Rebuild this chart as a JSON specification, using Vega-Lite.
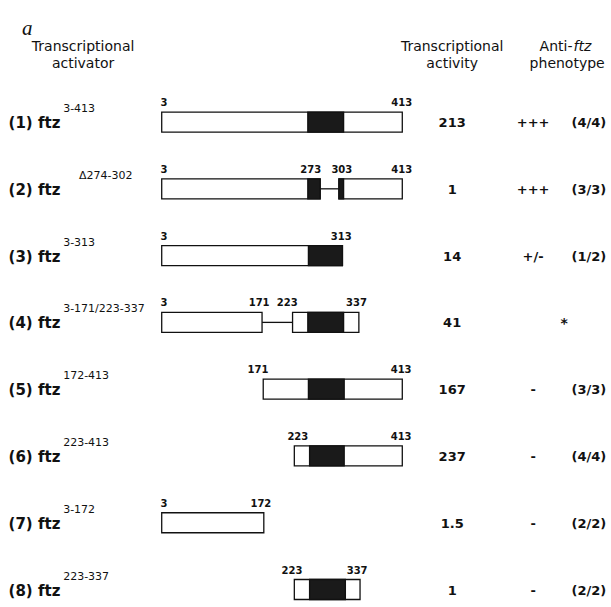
{
  "$schema": "https://vega.github.io/schema/vega-lite/v6.json",
  "width": 611,
  "height": 607,
  "autosize": {"type": "fit", "contains": "padding"},
  "padding": 0,
  "background": "white",
  "config": {"view": {"stroke": null}, "text": {"font": "DejaVu Sans", "color": "#111"}},
  "datasets": {
    "segments": [
      {"row": 1, "kind": "box", "start": 3, "end": 413},
      {"row": 1, "kind": "hd", "start": 252, "end": 313},
      {"row": 2, "kind": "box", "start": 3, "end": 273},
      {"row": 2, "kind": "hd", "start": 252, "end": 273},
      {"row": 2, "kind": "gap", "start": 273, "end": 305},
      {"row": 2, "kind": "box", "start": 305, "end": 413},
      {"row": 2, "kind": "hd", "start": 305, "end": 313},
      {"row": 3, "kind": "box", "start": 3, "end": 311},
      {"row": 3, "kind": "hd", "start": 253, "end": 311},
      {"row": 4, "kind": "box", "start": 3, "end": 174},
      {"row": 4, "kind": "gap", "start": 174, "end": 226},
      {"row": 4, "kind": "box", "start": 226, "end": 339},
      {"row": 4, "kind": "hd", "start": 252, "end": 313},
      {"row": 5, "kind": "box", "start": 176, "end": 413},
      {"row": 5, "kind": "hd", "start": 253, "end": 314},
      {"row": 6, "kind": "box", "start": 229, "end": 413},
      {"row": 6, "kind": "hd", "start": 255, "end": 314},
      {"row": 7, "kind": "box", "start": 3, "end": 177},
      {"row": 8, "kind": "box", "start": 229, "end": 341},
      {"row": 8, "kind": "hd", "start": 255, "end": 316}
    ],
    "ticks": [
      {"row": 1, "pos": 7, "label": "3"}, {"row": 1, "pos": 412, "label": "413"},
      {"row": 2, "pos": 7, "label": "3"}, {"row": 2, "pos": 257, "label": "273"}, {"row": 2, "pos": 310, "label": "303"}, {"row": 2, "pos": 412, "label": "413"},
      {"row": 3, "pos": 7, "label": "3"}, {"row": 3, "pos": 309, "label": "313"},
      {"row": 4, "pos": 7, "label": "3"}, {"row": 4, "pos": 169, "label": "171"}, {"row": 4, "pos": 217, "label": "223"}, {"row": 4, "pos": 335, "label": "337"},
      {"row": 5, "pos": 167, "label": "171"}, {"row": 5, "pos": 411, "label": "413"},
      {"row": 6, "pos": 235, "label": "223"}, {"row": 6, "pos": 411, "label": "413"},
      {"row": 7, "pos": 7, "label": "3"}, {"row": 7, "pos": 172, "label": "172"},
      {"row": 8, "pos": 225, "label": "223"}, {"row": 8, "pos": 336, "label": "337"}
    ],
    "constructs": [
      {"row": 1, "name": "(1) ftz", "sup": "3-413", "activity": "213", "sign": "+++", "count": "(4/4)"},
      {"row": 2, "name": "(2) ftz", "sup": "Δ274-302", "activity": "1", "sign": "+++", "count": "(3/3)"},
      {"row": 3, "name": "(3) ftz", "sup": "3-313", "activity": "14", "sign": "+/-", "count": "(1/2)"},
      {"row": 4, "name": "(4) ftz", "sup": "3-171/223-337", "activity": "41", "sign": "*", "count": ""},
      {"row": 5, "name": "(5) ftz", "sup": "172-413", "activity": "167", "sign": "-", "count": "(3/3)"},
      {"row": 6, "name": "(6) ftz", "sup": "223-413", "activity": "237", "sign": "-", "count": "(4/4)"},
      {"row": 7, "name": "(7) ftz", "sup": "3-172", "activity": "1.5", "sign": "-", "count": "(2/2)"},
      {"row": 8, "name": "(8) ftz", "sup": "223-337", "activity": "1", "sign": "-", "count": "(2/2)"}
    ],
    "headers": [
      {"col": -131, "line": 1, "text": "Transcriptional", "style": "normal"},
      {"col": -131, "line": 2, "text": "activator", "style": "normal"},
      {"col": 498, "line": 1, "text": "Transcriptional", "style": "normal"},
      {"col": 498, "line": 2, "text": "activity", "style": "normal"},
      {"col": 694, "line": 2, "text": "phenotype", "style": "normal"}
    ]
  },
  "layer": [
    {
      "data": {"name": "segments"},
      "transform": [{"filter": "datum.kind == 'gap'"}],
      "mark": {"type": "rule", "stroke": "#111", "strokeWidth": 1.3},
      "encoding": {
        "x": {"field": "start", "type": "quantitative", "scale": {"domain": [-272.6, 768.7]}, "axis": null},
        "x2": {"field": "end"},
        "y": {"field": "row", "type": "quantitative", "scale": {"domain": [-0.7526, 8.187], "reverse": true}, "axis": null}
      }
    },
    {
      "data": {"name": "segments"},
      "transform": [{"filter": "datum.kind == 'box'"}],
      "mark": {"type": "bar", "height": 20, "fill": "white", "stroke": "#111", "strokeWidth": 1.3},
      "encoding": {
        "x": {"field": "start", "type": "quantitative", "scale": {"domain": [-272.6, 768.7]}, "axis": null},
        "x2": {"field": "end"},
        "y": {"field": "row", "type": "quantitative", "scale": {"domain": [-0.7526, 8.187], "reverse": true}, "axis": null}
      }
    },
    {
      "data": {"name": "segments"},
      "transform": [{"filter": "datum.kind == 'hd'"}],
      "mark": {"type": "bar", "height": 20, "fill": "#1a1a1a", "stroke": "#111", "strokeWidth": 1.3},
      "encoding": {
        "x": {"field": "start", "type": "quantitative", "scale": {"domain": [-272.6, 768.7]}, "axis": null},
        "x2": {"field": "end"},
        "y": {"field": "row", "type": "quantitative", "scale": {"domain": [-0.7526, 8.187], "reverse": true}, "axis": null}
      }
    },
    {
      "data": {"name": "ticks"},
      "mark": {"type": "text", "fontSize": 10, "fontWeight": "bold", "align": "center", "baseline": "alphabetic", "dy": -16},
      "encoding": {
        "x": {"field": "pos", "type": "quantitative", "scale": {"domain": [-272.6, 768.7]}, "axis": null},
        "y": {"field": "row", "type": "quantitative", "scale": {"domain": [-0.7526, 8.187], "reverse": true}, "axis": null},
        "text": {"field": "label"}
      }
    },
    {
      "data": {"name": "constructs"},
      "mark": {"type": "text", "fontSize": 15, "fontWeight": "bold", "align": "left", "baseline": "alphabetic", "dy": 6},
      "encoding": {
        "x": {"datum": -258, "type": "quantitative", "scale": {"domain": [-272.6, 768.7]}, "axis": null},
        "y": {"field": "row", "type": "quantitative", "scale": {"domain": [-0.7526, 8.187], "reverse": true}, "axis": null},
        "text": {"field": "name"}
      }
    },
    {
      "data": {"name": "constructs"},
      "transform": [{"filter": "datum.row != 2"}],
      "mark": {"type": "text", "fontSize": 11, "align": "left", "baseline": "alphabetic", "dy": -10},
      "encoding": {
        "x": {"datum": -165, "type": "quantitative", "scale": {"domain": [-272.6, 768.7]}, "axis": null},
        "y": {"field": "row", "type": "quantitative", "scale": {"domain": [-0.7526, 8.187], "reverse": true}, "axis": null},
        "text": {"field": "sup"}
      }
    },
    {
      "data": {"name": "constructs"},
      "transform": [{"filter": "datum.row == 2"}],
      "mark": {"type": "text", "fontSize": 11, "align": "left", "baseline": "alphabetic", "dy": -10},
      "encoding": {
        "x": {"datum": -138, "type": "quantitative", "scale": {"domain": [-272.6, 768.7]}, "axis": null},
        "y": {"field": "row", "type": "quantitative", "scale": {"domain": [-0.7526, 8.187], "reverse": true}, "axis": null},
        "text": {"field": "sup"}
      }
    },
    {
      "data": {"name": "constructs"},
      "mark": {"type": "text", "fontSize": 13, "fontWeight": "bold", "align": "center", "baseline": "alphabetic", "dy": 5},
      "encoding": {
        "x": {"datum": 498, "type": "quantitative", "scale": {"domain": [-272.6, 768.7]}, "axis": null},
        "y": {"field": "row", "type": "quantitative", "scale": {"domain": [-0.7526, 8.187], "reverse": true}, "axis": null},
        "text": {"field": "activity"}
      }
    },
    {
      "data": {"name": "constructs"},
      "transform": [{"filter": "datum.sign != '*'"}],
      "mark": {"type": "text", "fontSize": 13, "fontWeight": "bold", "align": "center", "baseline": "alphabetic", "dy": 5},
      "encoding": {
        "x": {"datum": 636, "type": "quantitative", "scale": {"domain": [-272.6, 768.7]}, "axis": null},
        "y": {"field": "row", "type": "quantitative", "scale": {"domain": [-0.7526, 8.187], "reverse": true}, "axis": null},
        "text": {"field": "sign"}
      }
    },
    {
      "data": {"name": "constructs"},
      "transform": [{"filter": "datum.sign == '*'"}],
      "mark": {"type": "text", "fontSize": 14, "fontWeight": "bold", "align": "center", "baseline": "alphabetic", "dy": 6},
      "encoding": {
        "x": {"datum": 689, "type": "quantitative", "scale": {"domain": [-272.6, 768.7]}, "axis": null},
        "y": {"field": "row", "type": "quantitative", "scale": {"domain": [-0.7526, 8.187], "reverse": true}, "axis": null},
        "text": {"field": "sign"}
      }
    },
    {
      "data": {"name": "constructs"},
      "mark": {"type": "text", "fontSize": 13, "fontWeight": "bold", "align": "center", "baseline": "alphabetic", "dy": 5},
      "encoding": {
        "x": {"datum": 731, "type": "quantitative", "scale": {"domain": [-272.6, 768.7]}, "axis": null},
        "y": {"field": "row", "type": "quantitative", "scale": {"domain": [-0.7526, 8.187], "reverse": true}, "axis": null},
        "text": {"field": "count"}
      }
    },
    {
      "data": {"name": "headers"},
      "transform": [{"filter": "datum.line == 1"}],
      "mark": {"type": "text", "fontSize": 14, "align": "center", "baseline": "alphabetic", "dy": -4},
      "encoding": {
        "x": {"field": "col", "type": "quantitative", "scale": {"domain": [-272.6, 768.7]}, "axis": null},
        "y": {"datum": 0, "type": "quantitative", "scale": {"domain": [-0.7526, 8.187], "reverse": true}, "axis": null},
        "text": {"field": "text"}
      }
    },
    {
      "data": {"name": "headers"},
      "transform": [{"filter": "datum.line == 2"}],
      "mark": {"type": "text", "fontSize": 14, "align": "center", "baseline": "alphabetic", "dy": 12.5},
      "encoding": {
        "x": {"field": "col", "type": "quantitative", "scale": {"domain": [-272.6, 768.7]}, "axis": null},
        "y": {"datum": 0, "type": "quantitative", "scale": {"domain": [-0.7526, 8.187], "reverse": true}, "axis": null},
        "text": {"field": "text"}
      }
    },
    {
      "data": {"values": [{"col": 703, "text": "Anti-"}]},
      "mark": {"type": "text", "fontSize": 14, "align": "right", "baseline": "alphabetic", "dy": -4},
      "encoding": {
        "x": {"field": "col", "type": "quantitative", "scale": {"domain": [-272.6, 768.7]}, "axis": null},
        "y": {"datum": 0, "type": "quantitative", "scale": {"domain": [-0.7526, 8.187], "reverse": true}, "axis": null},
        "text": {"field": "text"}
      }
    },
    {
      "data": {"values": [{"col": 705, "text": "ftz"}]},
      "mark": {"type": "text", "fontSize": 14, "fontStyle": "italic", "align": "left", "baseline": "alphabetic", "dy": -4},
      "encoding": {
        "x": {"field": "col", "type": "quantitative", "scale": {"domain": [-272.6, 768.7]}, "axis": null},
        "y": {"datum": 0, "type": "quantitative", "scale": {"domain": [-0.7526, 8.187], "reverse": true}, "axis": null},
        "text": {"field": "text"}
      }
    },
    {
      "data": {"values": [{"col": -235, "text": "a"}]},
      "mark": {"type": "text", "font": "Liberation Serif", "fontSize": 21, "fontStyle": "italic", "align": "left", "baseline": "alphabetic", "dy": -20},
      "encoding": {
        "x": {"field": "col", "type": "quantitative", "scale": {"domain": [-272.6, 768.7]}, "axis": null},
        "y": {"datum": 0, "type": "quantitative", "scale": {"domain": [-0.7526, 8.187], "reverse": true}, "axis": null},
        "text": {"field": "text"}
      }
    }
  ]
}
